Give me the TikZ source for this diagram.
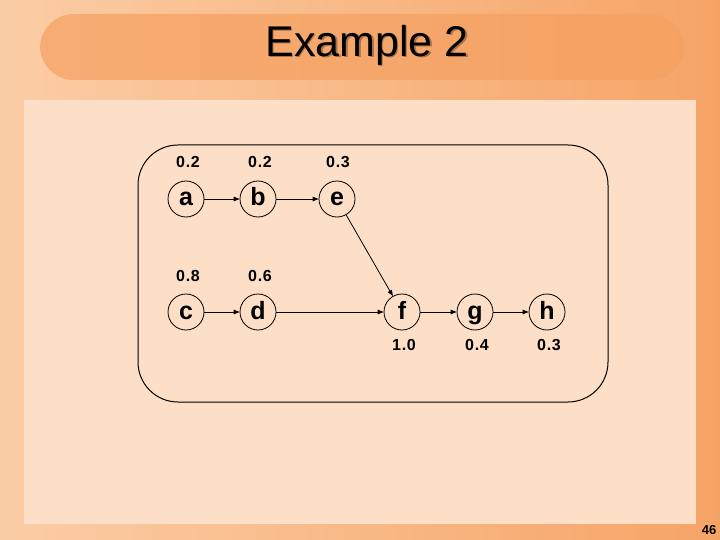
\documentclass[tikz,border=0pt]{standalone}
\usepackage{fontspec}
\setmainfont{Liberation Sans}
\usetikzlibrary{arrows.meta}
\definecolor{bgorange}{HTML}{F6A466}
\definecolor{bglight}{HTML}{FBCDA6}
\definecolor{blob}{HTML}{F5A060}
\definecolor{panel}{HTML}{FDDFC7}
\tikzset{
  st/.style={circle,draw,line width=0.8pt,minimum size=36pt,inner sep=0pt,
    text height=17pt,text depth=3pt,font=\fontsize{25}{25}\selectfont\bfseries},
  prob/.style={font=\fontsize{16}{16}\selectfont\bfseries\addfontfeature{LetterSpace=4}},
  arc/.style={-{Triangle[length=6pt,width=4.5pt]},line width=0.8pt},
  title/.style={font=\fontsize{43}{43}\selectfont}
}
\begin{document}
\begin{tikzpicture}[x=1pt,y=-1pt]
      \useasboundingbox (0,0) rectangle (720,540);
      \shade[left color=bglight,right color=bgorange] (0,0) rectangle (720,540);
      \fill[blob,opacity=0.7,rounded corners=34pt] (40,14) rectangle (684,80);
      \fill[panel] (24,100) rectangle (696,524);
      \draw[line width=1pt,rounded corners=40pt] (138,145) rectangle (608,402);

      \node[title,text=black!30!bgorange] at (368.5,46.5) {Example 2};
      \node[title] (title) at (367,45) {Example 2};

      \node[st] (a) at (186,199) {a};
      \node[st] (b) at (258,199) {b};
      \node[st] (e) at (337,199) {e};
      \node[st] (c) at (186,312) {c};
      \node[st] (d) at (258,312) {d};
      \node[st] (f) at (402,312) {f};
      \node[st] (g) at (475,312) {g};
      \node[st] (h) at (547,312) {h};

      \node[prob] (pa) at (188,162) {0.2};
      \node[prob] (pb) at (260,162) {0.2};
      \node[prob] (pe) at (338,162) {0.3};
      \node[prob] (pc) at (188,276) {0.8};
      \node[prob] (pd) at (260,276) {0.6};
      \node[prob] (pf) at (404,345) {1.0};
      \node[prob] (pg) at (477,345) {0.4};
      \node[prob] (ph) at (549,345) {0.3};

      \draw[arc] (a) -- (b);
      \draw[arc] (b) -- (e);
      \draw[arc] (e) -- (f);
      \draw[arc] (c) -- (d);
      \draw[arc] (d) -- (f);
      \draw[arc] (f) -- (g);
      \draw[arc] (g) -- (h);

      \node[font=\fontsize{13}{13}\selectfont\bfseries] (page) at (709,530) {46};
\end{tikzpicture}
\end{document}
